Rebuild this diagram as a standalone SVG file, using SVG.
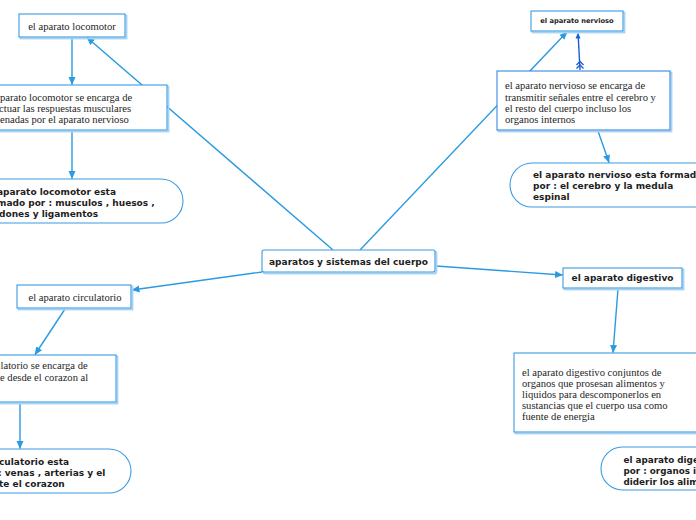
<svg xmlns="http://www.w3.org/2000/svg" width="696" height="520" viewBox="0 0 696 520">
<defs>
<marker id="arr" markerUnits="userSpaceOnUse" markerWidth="8" markerHeight="8" refX="7.5" refY="4" orient="auto">
<path d="M0,0.5 L8,4 L0,7.5 z" fill="#2a9be0"/>
</marker>
<style>
.bg{fill:#ffffff}
.box{fill:#ffffff;stroke:#3a9be2;stroke-width:1.1}
.sh{fill:none;stroke:#a6d3f5;stroke-width:1.8}
.pill{fill:#ffffff;stroke:#3a9be2;stroke-width:1.1}
.con{stroke:#2a9be0;stroke-width:1.4;fill:none}
.ser{font-family:"Liberation Serif","Times New Roman",serif;font-size:10.6px;fill:#1e1e1e}
.san{font-family:"DejaVu Sans","Verdana",sans-serif;font-size:9px;font-weight:bold;fill:#1e1e1e}
</style>
</defs>
<rect class="bg" x="0" y="0" width="696" height="520"/>

<g id="connectors">
<line class="con" x1="72" y1="38" x2="72" y2="84.5" marker-end="url(#arr)"/>
<line class="con" x1="72" y1="131" x2="72" y2="178.5" marker-end="url(#arr)"/>
<line class="con" x1="333" y1="250" x2="87" y2="37.5" marker-end="url(#arr)"/>
<line class="con" x1="360" y1="250" x2="567" y2="32" marker-end="url(#arr)"/>
<line class="con" x1="598" y1="131" x2="609" y2="162.5" marker-end="url(#arr)"/>
<line class="con" x1="262" y1="272" x2="132" y2="290" marker-end="url(#arr)"/>
<line class="con" x1="65" y1="309" x2="35" y2="354.5" marker-end="url(#arr)"/>
<line class="con" x1="20" y1="403" x2="20" y2="448.5" marker-end="url(#arr)"/>
<line class="con" x1="436" y1="266" x2="562.5" y2="275" marker-end="url(#arr)"/>
<line class="con" x1="618" y1="289" x2="613" y2="352.5" marker-end="url(#arr)"/>
<g id="nerv-link" stroke="#1f5cd4" stroke-width="1.4" fill="none">
<line x1="580" y1="70" x2="578.2" y2="36"/>
<path d="M575.5,38.5 L578,32.5 L580.5,38.5 z" fill="#1f5cd4" stroke="none"/>
<polyline points="576.5,65 580,61.5 583.5,65"/>
<polyline points="576.5,68.5 580,65 583.5,68.5"/>
</g>
</g>

<g id="n-locomotor">
<rect class="sh" x="20.5" y="15.5" width="106" height="23"/>
<rect class="box" x="19" y="14" width="106" height="23"/>
<text class="ser" x="72" y="29.5" text-anchor="middle">el aparato locomotor</text>
</g>

<g id="n-locomotor-desc">
<rect class="sh" x="-8.5" y="86.5" width="177" height="45"/>
<rect class="box" x="-10" y="85" width="177" height="45"/>
<text class="ser" x="0" y="100.5">parato locomotor se encarga de</text>
<text class="ser" x="-1" y="111.5">ctuar las respuestas musculares</text>
<text class="ser" x="0" y="122.5">enadas por el aparato nervioso</text>
</g>

<g id="n-locomotor-pill">
<rect class="pill" x="-40" y="179" width="223" height="44" rx="22" ry="22"/>
<text class="san" x="-3" y="194.5">aparato locomotor esta</text>
<text class="san" x="-3" y="205.5">mado por : musculos , huesos ,</text>
<text class="san" x="-1" y="216.5">dones y ligamentos</text>
</g>

<g id="n-center">
<rect class="sh" x="263.5" y="251.5" width="173" height="22" rx="2"/>
<rect class="box" x="262" y="250" width="173" height="22" rx="2"/>
<text class="san" x="348.5" y="264.5" text-anchor="middle">aparatos y sistemas del cuerpo</text>
</g>

<g id="n-nervioso">
<rect class="sh" x="532.5" y="12.5" width="92" height="20"/>
<rect class="box" x="531" y="11" width="92" height="20"/>
<text class="san" x="577" y="23.3" text-anchor="middle" style="font-size:6.7px">el aparato nervioso</text>
</g>

<g id="n-nervioso-desc">
<rect class="sh" x="498.5" y="72.5" width="173" height="59"/>
<rect class="box" x="497" y="71" width="173" height="59" style="stroke:#3a86dc"/>
<text class="ser" x="505" y="88.5">el aparato nervioso se encarga de</text>
<text class="ser" x="505" y="100.5">transmitir señales entre el cerebro y</text>
<text class="ser" x="505" y="111.5">el resto del cuerpo incluso los</text>
<text class="ser" x="505" y="122.5">organos internos</text>
</g>

<g id="n-nervioso-pill">
<rect class="pill" x="510" y="163" width="230" height="44" rx="22" ry="22"/>
<text class="san" x="533" y="178.3">el aparato nervioso esta formado</text>
<text class="san" x="533" y="189.3">por : el cerebro y la medula</text>
<text class="san" x="533" y="200.3">espinal</text>
</g>

<g id="n-circulatorio">
<rect class="sh" x="18.5" y="286.5" width="114" height="23"/>
<rect class="box" x="17" y="285" width="114" height="23"/>
<text class="ser" x="75" y="300.5" text-anchor="middle">el aparato circulatorio</text>
</g>

<g id="n-circulatorio-desc">
<rect class="sh" x="-8.5" y="356.5" width="126" height="47"/>
<rect class="box" x="-10" y="355" width="126" height="47"/>
<text class="ser" x="0.5" y="368.5">latorio se encarga de</text>
<text class="ser" x="0" y="380.5">e desde el corazon al</text>
</g>

<g id="n-circulatorio-pill">
<rect class="pill" x="-95" y="449" width="226" height="44" rx="22" ry="22"/>
<text class="san" x="-1" y="465.3">culatorio esta</text>
<text class="san" x="-2" y="476.3">: venas , arterias y el</text>
<text class="san" x="-1" y="487.3">te el corazon</text>
</g>

<g id="n-digestivo">
<rect class="sh" x="564.5" y="269.5" width="119" height="20"/>
<rect class="box" x="563" y="268" width="119" height="20"/>
<text class="san" x="622.5" y="281.3" text-anchor="middle">el aparato digestivo</text>
</g>

<g id="n-digestivo-desc">
<rect class="sh" x="515.5" y="354.5" width="190" height="79"/>
<rect class="box" x="514" y="353" width="190" height="79"/>
<text class="ser" x="522" y="375.5">el aparato digestivo conjuntos de</text>
<text class="ser" x="522" y="386.5">organos que prosesan alimentos y</text>
<text class="ser" x="522" y="397.5">liquidos para descomponerlos en</text>
<text class="ser" x="522" y="408.5">sustancias que el cuerpo usa como</text>
<text class="ser" x="522" y="419.5">fuente de energia</text>
</g>

<g id="n-digestivo-pill">
<rect class="pill" x="601" y="447" width="150" height="43" rx="21.5" ry="21.5"/>
<text class="san" x="623.5" y="463.3" style="font-size:8.8px">el aparato dige</text>
<text class="san" x="623.5" y="474.3" style="font-size:8.8px">por : organos i</text>
<text class="san" x="623.5" y="485.3" style="font-size:8.8px">diderir los alim</text>
</g>
</svg>
